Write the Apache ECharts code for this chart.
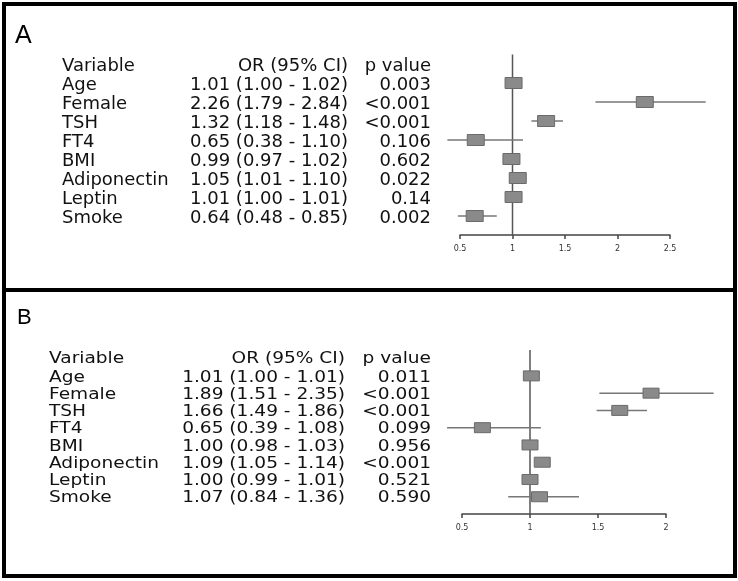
<!DOCTYPE html>
<html>
<head>
<meta charset="utf-8">
<script src="https://cdn.jsdelivr.net/npm/echarts@6/dist/echarts.min.js"></script>
<style>
html,body{margin:0;padding:0;background:#fff;}
#chart{width:738px;height:581px;}
</style>
</head>
<body>
<div id="chart"></div>
<script>
// ---- data ----
const variables = ['Age', 'Female', 'TSH', 'FT4', 'BMI', 'Adiponectin', 'Leptin', 'Smoke'];
const headers = ['Variable', 'OR (95% CI)', 'p value'];
const panelLabels = ['A', 'B'];

const orA = [1.01, 2.26, 1.32, 0.65, 0.99, 1.05, 1.01, 0.64];
const loA = [1.00, 1.79, 1.18, 0.38, 0.97, 1.01, 1.00, 0.48];
const hiA = [1.02, 2.84, 1.48, 1.10, 1.02, 1.10, 1.01, 0.85];
const pA  = ['0.003', '<0.001', '<0.001', '0.106', '0.602', '0.022', '0.14', '0.002'];

const orB = [1.01, 1.89, 1.66, 0.65, 1.00, 1.09, 1.00, 1.07];
const loB = [1.00, 1.51, 1.49, 0.39, 0.98, 1.05, 0.99, 0.84];
const hiB = [1.01, 2.35, 1.86, 1.08, 1.03, 1.14, 1.01, 1.36];
const pB  = ['0.011', '<0.001', '<0.001', '0.099', '0.956', '<0.001', '0.521', '0.590'];

const ticksA = [0.5, 1, 1.5, 2, 2.5];
const ticksB = [0.5, 1, 1.5, 2];
const refValue = 1;

// ---- layout ----
const Y_MIN = -1.5, Y_MAX = 8;
const FONT = '"DejaVu Sans", sans-serif';
const panels = [
  { or: orA, lo: loA, hi: hiA, p: pA, ticks: ticksA,
    grid: { left: 460, right: 68, top: 54.5, bottom: 346 },
    colVar: 62, colOR: 348, colP: 431, fontSize: 18, sx: 1.0, dy: 2.5,
    headerY: 66, boxW: 17, boxH: 11 },
  { or: orB, lo: loB, hi: hiB, p: pB, ticks: ticksB,
    grid: { left: 462, right: 72, top: 350, bottom: 67 },
    colVar: 49, colOR: 345, colP: 431, fontSize: 16, sx: 1.16, dy: 1.5,
    headerY: 359, boxW: 16, boxH: 10 }
];

function fmt(v) { return v.toFixed(2); }

function textEl(str, x, y, align, size, sx) {
  return {
    type: 'text', x: x, y: y, scaleX: sx, scaleY: 1, originX: 0, originY: 0,
    style: {
      text: str, x: 0, y: 0, fill: '#111', font: size + 'px ' + FONT,
      textAlign: align, align: align, textVerticalAlign: 'middle', verticalAlign: 'middle'
    }
  };
}

const chart = echarts.init(document.getElementById('chart'), null, { renderer: 'canvas' });

const grids = [], xAxes = [], yAxes = [], series = [];
panels.forEach(function (pn, k) {
  grids.push(pn.grid);
  xAxes.push({
    gridIndex: k, type: 'value', position: 'bottom',
    min: pn.ticks[0], max: pn.ticks[pn.ticks.length - 1], interval: pn.ticks[1] - pn.ticks[0],
    axisLine: { show: true, onZero: false, lineStyle: { color: '#444', width: 1.5 } },
    axisTick: { show: true, length: 4, lineStyle: { color: '#444', width: 1.5 } },
    axisLabel: { fontSize: 8, color: '#333', margin: 10, fontFamily: FONT },
    splitLine: { show: false }
  });
  yAxes.push({
    gridIndex: k, type: 'value', min: Y_MIN, max: Y_MAX, inverse: true, show: false,
    axisLine: { onZero: false },
    splitLine: { show: false }
  });
  // reference line at OR = 1
  series.push({
    type: 'line', xAxisIndex: k, yAxisIndex: k, z: 1, silent: true,
    symbol: 'none', data: [[refValue, Y_MIN], [refValue, Y_MAX]],
    lineStyle: { color: '#555', width: 1.5 }
  });
  const data = variables.map(function (v, i) { return [pn.or[i], pn.lo[i], pn.hi[i], i]; });
  series.push({
    type: 'custom', xAxisIndex: k, yAxisIndex: k, z: 2, clip: false, silent: true,
    data: data,
    encode: { x: [0, 1, 2], y: 3 },
    renderItem: function (params, api) {
      const i = params.dataIndex;
      const row = api.value(3);
      const pOr = api.coord([api.value(0), row]);
      const pLo = api.coord([api.value(1), row]);
      const pHi = api.coord([api.value(2), row]);
      const y = pOr[1];
      return {
        type: 'group',
        children: [
          { type: 'line', shape: { x1: pLo[0], y1: y, x2: pHi[0], y2: y },
            style: { stroke: '#777', lineWidth: 1.5 } },
          { type: 'rect', shape: { x: pOr[0] - pn.boxW / 2, y: y - pn.boxH / 2, width: pn.boxW, height: pn.boxH },
            style: { fill: '#8a8a8a', stroke: '#6a6a6a', lineWidth: 1 } },
          textEl(variables[i], pn.colVar, y + pn.dy, 'left', pn.fontSize, pn.sx),
          textEl(fmt(pn.or[i]) + ' (' + fmt(pn.lo[i]) + ' - ' + fmt(pn.hi[i]) + ')', pn.colOR, y + pn.dy, 'right', pn.fontSize, pn.sx),
          textEl(pn.p[i], pn.colP, y + pn.dy, 'right', pn.fontSize, pn.sx)
        ]
      };
    }
  });
});

const graphics = [
  { type: 'rect', shape: { x: 4, y: 4, width: 731, height: 286 },
    style: { fill: 'none', stroke: '#000', lineWidth: 4 }, z: 10 },
  { type: 'rect', shape: { x: 4, y: 290, width: 731, height: 286 },
    style: { fill: 'none', stroke: '#000', lineWidth: 4 }, z: 10 },
  { type: 'text', x: 15, y: 36, style: { text: panelLabels[0], fill: '#000', font: '25px "Liberation Sans", Arial, sans-serif', textVerticalAlign: 'middle', verticalAlign: 'middle' } },
  { type: 'text', x: 17, y: 318, style: { text: panelLabels[1], fill: '#000', font: '22px "Liberation Sans", Arial, sans-serif', textVerticalAlign: 'middle', verticalAlign: 'middle' } }
];
panels.forEach(function (pn) {
  graphics.push(textEl(headers[0], pn.colVar, pn.headerY, 'left', pn.fontSize, pn.sx));
  graphics.push(textEl(headers[1], pn.colOR, pn.headerY, 'right', pn.fontSize, pn.sx));
  graphics.push(textEl(headers[2], pn.colP, pn.headerY, 'right', pn.fontSize, pn.sx));
});

chart.setOption({
  animation: false,
  backgroundColor: '#fff',
  grid: grids,
  xAxis: xAxes,
  yAxis: yAxes,
  series: series,
  graphic: { elements: graphics }
});
</script>
</body>
</html>
